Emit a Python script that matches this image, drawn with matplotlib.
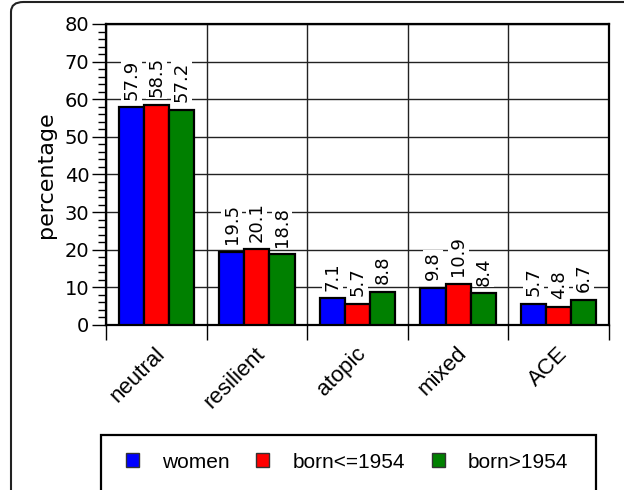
import matplotlib.pyplot as plt
import numpy as np
from matplotlib.patches import FancyBboxPatch, Rectangle, Patch
from matplotlib.ticker import MultipleLocator, FixedLocator, NullFormatter
import matplotlib.transforms as mtransforms

categories = ['neutral', 'resilient', 'atopic', 'mixed', 'ACE']
series_names = ['women', 'born<=1954', 'born>1954']
women = [57.9, 19.5, 7.1, 9.8, 5.7]
born_old = [58.5, 20.1, 5.7, 10.9, 4.8]
born_young = [57.2, 18.8, 8.8, 8.4, 6.7]
colors = ['#0000ff', '#ff0000', '#008000']

W, H = 624, 490
fig = plt.figure(figsize=(W / 100, H / 100), dpi=100)

# outer rounded frame (cut off at right and bottom like the original)
frame = FancyBboxPatch((11 / W, -0.2), 1.2, 1 - 2 / H + 0.2,
                       boxstyle='round,pad=0,rounding_size=0.02',
                       transform=fig.transFigure, fc='white', ec='#222222', lw=1.5,
                       zorder=-2)
fig.patches.append(frame)

ax = fig.add_axes([106 / W, 1 - 325 / H, (609 - 106) / W, (325 - 24) / H])

x = np.arange(len(categories))
bw = 0.25
for k, (vals, col) in enumerate(zip([women, born_old, born_young], colors)):
    xs = x + (k - 1) * bw
    ax.bar(xs, vals, width=bw, color=col, edgecolor='black', linewidth=1.6, zorder=3)
    for xi, v in zip(xs, vals):
        ax.annotate(f'{v}', (xi, v), xytext=(0, 5.5), textcoords='offset points',
                    rotation=90, ha='center', va='bottom', fontsize=13,
                    bbox=dict(fc='white', ec='none', pad=1), zorder=4)

ax.set_xlim(-0.5, len(categories) - 0.5)
ax.set_ylim(0, 80)

# y axis
ax.yaxis.set_major_locator(MultipleLocator(10))
ax.yaxis.set_minor_locator(MultipleLocator(2))
ax.tick_params(axis='y', which='major', length=10, width=1, labelsize=14, pad=2)
ax.tick_params(axis='y', which='minor', length=5.5, width=1)
ax.set_ylabel('percentage', fontsize=16, labelpad=6)
ax.grid(axis='y', which='major', color='#222222', lw=1, zorder=1)

# x axis: ticks at group boundaries, labels at group centres
ax.xaxis.set_major_locator(FixedLocator(np.arange(len(categories) + 1) - 0.5))
ax.xaxis.set_major_formatter(NullFormatter())
ax.xaxis.set_minor_locator(FixedLocator(x))
ax.set_xticklabels(categories, minor=True)
ax.tick_params(axis='x', which='major', length=11, width=1)
ax.tick_params(axis='x', which='minor', length=0, pad=0)
ax.grid(axis='x', which='major', color='#222222', lw=1, zorder=1)
offset = mtransforms.ScaledTranslation(-2 / 100, -18 / 100, fig.dpi_scale_trans)
for lab in ax.get_xticklabels(minor=True):
    lab.set_rotation(45)
    lab.set_ha('right')
    lab.set_va('top')
    lab.set_rotation_mode('anchor')
    lab.set_fontfamily('Liberation Sans')
    lab.set_fontsize(16)
    lab.set_transform(lab.get_transform() + offset)

for s in ax.spines.values():
    s.set_linewidth(1.6)

# legend box, cut off at the bottom
box = Rectangle((101 / W, -0.1), (596 - 101) / W, 1 - 435 / H + 0.1,
                transform=fig.transFigure, fc='white', ec='black', lw=1.6, zorder=-1)
fig.patches.append(box)
handles = [Patch(facecolor=c, edgecolor='#333333', lw=1) for c in colors]
fig.legend(handles, series_names, loc='center', bbox_to_anchor=(347 / W, 1 - 462 / H),
           ncol=3, frameon=False, handlelength=0.62, handleheight=0.62,
           handletextpad=1.1, columnspacing=1.3,
           prop={'family': 'Liberation Sans', 'size': 15})

fig.savefig('out.png', dpi=100)
